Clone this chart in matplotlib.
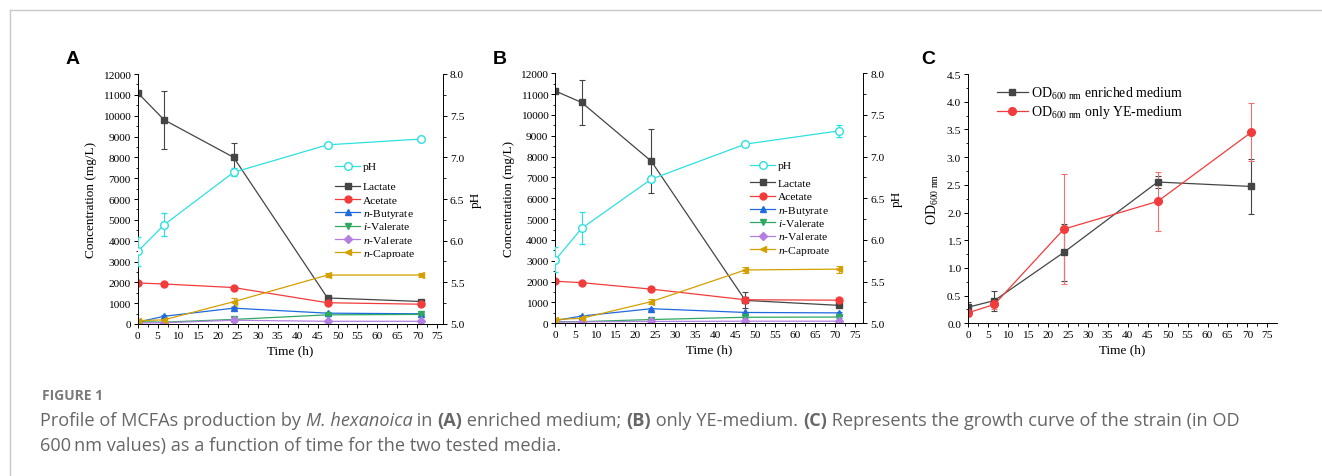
import numpy as np
import matplotlib
matplotlib.use("Agg")
import matplotlib.pyplot as plt
from matplotlib.lines import Line2D
from matplotlib.ticker import MultipleLocator

plt.rcParams['font.family'] = ['Liberation Serif', 'DejaVu Serif']
plt.rcParams['mathtext.fontset'] = 'custom'
plt.rcParams['mathtext.rm'] = 'Liberation Serif'
plt.rcParams['mathtext.it'] = 'Liberation Serif:italic'

W, H = 1322, 477

# ---- data ----
time = [0, 6.6, 24, 47.5, 71]
names = ['Lactate', 'Acetate', '$n$-Butyrate', '$i$-Valerate', '$n$-Valerate', '$n$-Caproate']

# panel A: enriched medium (mg/L)
conc_A = {
    'Lactate':   [11100, 9800, 8000, 1250, 1080],
    'Acetate':   [1970, 1920, 1750, 1020, 950],
    'Butyrate':  [90, 370, 760, 520, 490],
    'iValerate': [110, 90, 220, 440, 460],
    'nValerate': [50, 60, 180, 130, 130],
    'Caproate':  [160, 200, 1070, 2350, 2350],
}
err_A = {
    'Lactate':   [60, 1400, 700, 100, 60],
    'Acetate':   [40, 40, 50, 40, 40],
    'Butyrate':  [30, 60, 50, 30, 30],
    'iValerate': [20, 20, 40, 30, 30],
    'nValerate': [10, 10, 60, 10, 10],
    'Caproate':  [60, 60, 200, 80, 110],
}
ph_A = [5.87, 6.19, 6.82, 7.15, 7.22]
ph_err_A = [0.17, 0.14, 0.05, 0.02, 0.01]

# panel B: only YE-medium (mg/L)
conc_B = {
    'Lactate':   [11150, 10600, 7780, 1100, 860],
    'Acetate':   [2020, 1950, 1640, 1130, 1110],
    'Butyrate':  [130, 350, 700, 520, 500],
    'iValerate': [80, 80, 180, 290, 300],
    'nValerate': [60, 70, 90, 100, 100],
    'Caproate':  [180, 240, 1040, 2560, 2600],
}
err_B = {
    'Lactate':   [60, 1100, 1540, 380, 60],
    'Acetate':   [40, 40, 50, 60, 60],
    'Butyrate':  [30, 50, 50, 30, 30],
    'iValerate': [20, 20, 30, 30, 30],
    'nValerate': [10, 10, 10, 10, 10],
    'Caproate':  [60, 60, 130, 150, 170],
}
ph_B = [5.76, 6.14, 6.73, 7.15, 7.31]
ph_err_B = [0.15, 0.19, 0.04, 0.02, 0.07]

# panel C: OD600
od_enriched = [0.29, 0.41, 1.28, 2.55, 2.47]
od_enriched_err = [0.09, 0.18, 0.51, 0.10, 0.49]
od_ye = [0.19, 0.34, 1.70, 2.20, 3.45]
od_ye_err = [0.05, 0.08, 0.99, 0.53, 0.52]
od_names = [r'OD$_{\mathregular{600\ nm}}$ enriched medium',
            r'OD$_{\mathregular{600\ nm}}$ only YE-medium']

keys = ['Lactate', 'Acetate', 'Butyrate', 'iValerate', 'nValerate', 'Caproate']
colors = ['#454545', '#f23c3c', '#1f6ae0', '#2fa860', '#b47ee0', '#d4a000']
markers = ['s', 'o', '^', 'v', 'D', '<']
msizes = [4.5, 5, 5, 5, 4, 5]
ph_color = '#2ee0e0'

fig = plt.figure(figsize=(W / 100, H / 100), dpi=100)


def px_axes(left, right, top, bottom):
    return fig.add_axes([left / W, 1 - bottom / H, (right - left) / W, (bottom - top) / H])


def style_axis(ax):
    ax.tick_params(direction='out', length=3, width=0.7, labelsize=8.2, pad=2)
    ax.tick_params(which='minor', direction='out', length=1.8, width=0.6)
    for s in ax.spines.values():
        s.set_linewidth(0.7)
    ax.spines['top'].set_visible(False)


def legend_entry(x, y, length, label, fs, color, **mk):
    # line + marker handle, then label; x = left of handle, y = row centre, fs in px
    fig.add_artist(Line2D([x / W, (x + length) / W], [1 - y / H, 1 - y / H],
                          transform=fig.transFigure, lw=0.9, color=color))
    fig.add_artist(Line2D([(x + length / 2) / W], [1 - y / H], transform=fig.transFigure,
                          lw=0, **mk))
    fig.text((x + length + 3) / W, 1 - (y + fs * 0.33) / H, label, fontsize=fs * 0.72,
             va='baseline', ha='left')


def conc_panel(ax, conc, err, ph, ph_err, xmax, leg_x, leg_ph_y, leg_y):
    style_axis(ax)
    ax.spines['right'].set_visible(False)
    for k, c, m, ms in zip(keys, colors, markers, msizes):
        ax.errorbar(time, conc[k], yerr=err[k], color=c, marker=m, ms=ms, lw=0.9,
                    elinewidth=0.8, capsize=2, capthick=0.8)
    ax.set_xlim(0, xmax)
    ax.set_ylim(0, 12000)
    ax.xaxis.set_major_locator(MultipleLocator(5))
    ax.xaxis.set_minor_locator(MultipleLocator(2.5))
    ax.yaxis.set_major_locator(MultipleLocator(1000))
    ax.yaxis.set_minor_locator(MultipleLocator(500))
    ax.set_xlabel('Time (h)', fontsize=9.5, labelpad=3)
    ax.set_ylabel('Concentration (mg/L)', fontsize=9.5, labelpad=4)

    ax2 = ax.twinx()
    style_axis(ax2)
    ax2.spines['left'].set_visible(False)
    ax2.errorbar(time, ph, yerr=ph_err, color=ph_color, marker='o', ms=5.5, mfc='white',
                 mec=ph_color, mew=1, lw=0.9, elinewidth=0.8, capsize=2, capthick=0.8)
    ax2.set_ylim(5.0, 8.0)
    ax2.yaxis.set_major_locator(MultipleLocator(0.5))
    ax2.yaxis.set_minor_locator(MultipleLocator(0.25))
    ax2.yaxis.set_major_formatter(plt.FormatStrFormatter('%.1f'))
    ax2.set_ylabel('pH', fontsize=9.5, labelpad=4)

    legend_entry(leg_x, leg_ph_y, 25, 'pH', 11.5, ph_color, marker='o', ms=5.5,
                 mfc='white', mec=ph_color, mew=1)
    for i, (nm, c, m, ms) in enumerate(zip(names, colors, markers, msizes)):
        legend_entry(leg_x, leg_y + i * 13.3, 25, nm, 11.5, c, marker=m, ms=ms,
                     mec=c, mfc=c)


axA = px_axes(137.7, 443, 75, 325)
conc_panel(axA, conc_A, err_A, ph_A, ph_err_A, 76.4, 335, 166.7, 186.7)
axB = px_axes(555.3, 863.3, 74.3, 324.3)
conc_panel(axB, conc_B, err_B, ph_B, ph_err_B, 77.0, 750, 165.7, 183.3)

axC = px_axes(968, 1277, 75, 324.3)
style_axis(axC)
axC.spines['right'].set_visible(False)
axC.errorbar(time, od_enriched, yerr=od_enriched_err, color='#454545', marker='s', ms=5,
             lw=0.9, elinewidth=0.8, capsize=2, capthick=0.8)
axC.errorbar(time, od_ye, yerr=od_ye_err, color='#f23c3c', marker='o', ms=5.5,
             lw=0.9, elinewidth=0.8, capsize=2, capthick=0.8, ecolor='#f47070')
axC.set_xlim(0, 77.4)
axC.set_ylim(0, 4.5)
axC.xaxis.set_major_locator(MultipleLocator(5))
axC.xaxis.set_minor_locator(MultipleLocator(2.5))
axC.yaxis.set_major_locator(MultipleLocator(0.5))
axC.yaxis.set_minor_locator(MultipleLocator(0.25))
axC.yaxis.set_major_formatter(plt.FormatStrFormatter('%.1f'))
axC.set_xlabel('Time (h)', fontsize=9.5, labelpad=3)
axC.set_ylabel(r'OD$_{\mathregular{600\ nm}}$', fontsize=10, labelpad=4)
legend_entry(996.7, 93.3, 31.5, od_names[0], 13.9, '#454545', marker='s', ms=5,
             mec='#454545', mfc='#454545')
legend_entry(996.7, 111.7, 31.5, od_names[1], 13.9, '#f23c3c', marker='o', ms=5.5,
             mec='#f23c3c', mfc='#f23c3c')

# panel letters
for lab, x in [('A', 73), ('B', 500), ('C', 928)]:
    fig.text(x / W, 1 - 60 / H, lab, fontsize=14, fontweight='bold', family='Liberation Sans',
             ha='center', va='center')

# frame lines
fig.add_artist(Line2D([10 / W, 1], [1 - 11 / H, 1 - 11 / H], transform=fig.transFigure,
                      color='#c8c8c8', lw=1))
fig.add_artist(Line2D([10 / W, 10 / W], [0, 1 - 11 / H], transform=fig.transFigure,
                      color='#c8c8c8', lw=1))

# caption
cap_color = '#666666'
fig.text(42 / W, 1 - 400 / H, 'FIGURE 1', fontsize=10, fontweight='bold', family='Open Sans',
         color='#7a7a7a', va='baseline')

line1 = [('Profile of MCFAs production by ', 'normal', 'normal'),
         ('M. hexanoica', 'normal', 'italic'),
         (' in ', 'normal', 'normal'), ('(A)', 'bold', 'normal'),
         (' enriched medium; ', 'normal', 'normal'), ('(B)', 'bold', 'normal'),
         (' only YE-medium. ', 'normal', 'normal'), ('(C)', 'bold', 'normal'),
         (' Represents the growth curve of the strain (in OD', 'normal', 'normal')]
line2 = [('600\u2009nm values) as a function of time for the two tested media.', 'normal', 'normal')]

fig.canvas.draw()
renderer = fig.canvas.get_renderer()
for parts, base in [(line1, 426), (line2, 451)]:
    x = 40
    for txt, wt, st in parts:
        t = fig.text(x / W, 1 - base / H, txt, fontsize=13.1, fontweight=wt, fontstyle=st,
                     family=['Open Sans', 'DejaVu Sans'], color=cap_color, va='baseline')
        bb = t.get_window_extent(renderer)
        x += bb.width

fig.savefig('out.png', dpi=100)
